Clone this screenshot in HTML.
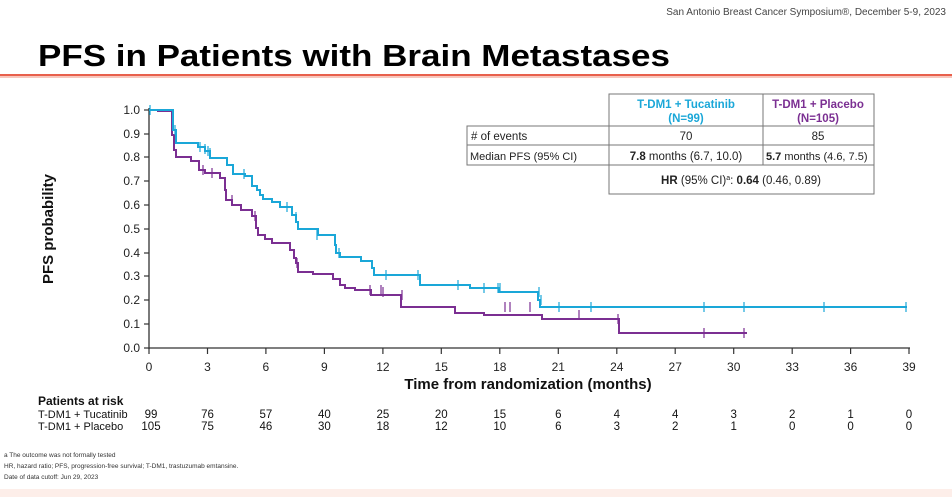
<!DOCTYPE html>
<html><head><meta charset="utf-8"><style>
body{margin:0;background:#fff;}
svg text{font-family:"Liberation Sans",Arial,sans-serif;}
</style></head><body>
<svg width="952" height="497" viewBox="0 0 952 497" xmlns="http://www.w3.org/2000/svg">
<rect width="952" height="497" fill="#fff"/>
<text x="946" y="15" text-anchor="end" font-size="10" fill="#444">San Antonio Breast Cancer Symposium®, December 5-9, 2023</text>
<text x="38" y="66" font-size="31" font-weight="bold" fill="#000" textLength="632" lengthAdjust="spacingAndGlyphs">PFS in Patients with Brain Metastases</text>
<rect x="0" y="74" width="952" height="2" fill="#e8604c"/>
<rect x="0" y="76" width="952" height="2" fill="#f7c7bd"/>
<rect x="0" y="489" width="952" height="8" fill="#fdeee9"/>

<g stroke="#333" stroke-width="1.3" fill="none">
<line x1="149" y1="108" x2="149" y2="349"/>
<line x1="149" y1="348" x2="910" y2="348"/>
</g>
<g stroke="#333" stroke-width="1.2">
<line x1="144" y1="110" x2="149" y2="110"/><line x1="144" y1="134" x2="149" y2="134"/><line x1="144" y1="157" x2="149" y2="157"/><line x1="144" y1="181" x2="149" y2="181"/><line x1="144" y1="205" x2="149" y2="205"/><line x1="144" y1="229" x2="149" y2="229"/><line x1="144" y1="253" x2="149" y2="253"/><line x1="144" y1="276" x2="149" y2="276"/><line x1="144" y1="300" x2="149" y2="300"/><line x1="144" y1="324" x2="149" y2="324"/><line x1="144" y1="348" x2="149" y2="348"/>
<line x1="149" y1="348" x2="149" y2="354"/><line x1="207.5" y1="348" x2="207.5" y2="354"/><line x1="265.9" y1="348" x2="265.9" y2="354"/><line x1="324.4" y1="348" x2="324.4" y2="354"/><line x1="382.9" y1="348" x2="382.9" y2="354"/><line x1="441.3" y1="348" x2="441.3" y2="354"/><line x1="499.8" y1="348" x2="499.8" y2="354"/><line x1="558.3" y1="348" x2="558.3" y2="354"/><line x1="616.8" y1="348" x2="616.8" y2="354"/><line x1="675.2" y1="348" x2="675.2" y2="354"/><line x1="733.7" y1="348" x2="733.7" y2="354"/><line x1="792.2" y1="348" x2="792.2" y2="354"/><line x1="850.6" y1="348" x2="850.6" y2="354"/><line x1="909" y1="348" x2="909" y2="354"/>
</g>
<g font-size="12" fill="#222" text-anchor="end">
<text x="140" y="114">1.0</text><text x="140" y="138">0.9</text><text x="140" y="161">0.8</text><text x="140" y="185">0.7</text><text x="140" y="209">0.6</text><text x="140" y="233">0.5</text><text x="140" y="257">0.4</text><text x="140" y="280">0.3</text><text x="140" y="304">0.2</text><text x="140" y="328">0.1</text><text x="140" y="352">0.0</text>
</g>
<g font-size="12" fill="#222" text-anchor="middle">
<text x="149" y="371">0</text><text x="207.5" y="371">3</text><text x="265.9" y="371">6</text><text x="324.4" y="371">9</text><text x="382.9" y="371">12</text><text x="441.3" y="371">15</text><text x="499.8" y="371">18</text><text x="558.3" y="371">21</text><text x="616.8" y="371">24</text><text x="675.2" y="371">27</text><text x="733.7" y="371">30</text><text x="792.2" y="371">33</text><text x="850.6" y="371">36</text><text x="909" y="371">39</text>
</g>
<text x="528" y="389" text-anchor="middle" font-size="15" font-weight="bold" fill="#111">Time from randomization (months)</text>
<text transform="translate(53,229) rotate(-90)" text-anchor="middle" font-size="15" font-weight="bold" fill="#111">PFS probability</text>

<path fill="none" stroke="#7b2f92" stroke-width="2" d="M149,110 H158 V111 H172 V135 H174 V150 H176 V157 H191 V161 H199 V170 H205 V173 H220 V178 H225 V190 H226 V200 H232 V205 H241 V210 H252 V216 H256 V228 H258 V235 H265 V239 H272 V243 H290 V250 H294 V258 H296 V263 H298 V272 H313 V274 H333 V279 H340 V285 H345 V288 H355 V290 H371 V295 H401 V307 H455 V313 H484 V315 H542 V319 H619 V333 H747"/>
<path fill="none" stroke="#1aa7d8" stroke-width="2" d="M149,110 H173 V130 H176 V143 H198 V147 H205 V151 H210 V158 H227 V165 H233 V174 H245 V176 H252 V186 H257 V190 H260 V195 H263 V199 H272 V202 H280 V207 H292 V215 H296 V222 H298 V229 H318 V235 H335 V245 H336 V253 H340 V257 H361 V261 H372 V268 H374 V275 H420 V285 H470 V288 H499 V292 H538 V300 H540 V307 H907"/>
<g stroke="#7b2f92" stroke-width="1.2">
<path d="M203,165v10M212,168v10M232,195v10M255,211v10M297,258v10M370,285v10M381,285v10M383,287v10M402,290v10M505,302v10M510,302v10M530,302v10M579,310v10M618,314v10M704,328v10M744,328v10"/>
</g>
<g stroke="#1aa7d8" stroke-width="1.2">
<path d="M150,105v10M175,125v10M200,142v10M205,144v10M208,146v10M210,148v10M244,169v10M287,202v10M296,212v10M317,230v10M339,248v10M386,270v10M418,270v10M458,280v10M484,283v10M498,283v10M500,283v10M539,287v10M541,295v10M559,302v10M591,302v10M704,302v10M744,302v10M824,302v10M906,302v10"/>
</g>

<g stroke="#777" stroke-width="1" fill="none">
<rect x="609" y="94" width="265" height="100"/>
<line x1="763" y1="94" x2="763" y2="165"/>
<rect x="467" y="126" width="142" height="39"/>
<line x1="467" y1="145" x2="874" y2="145"/>
<line x1="609" y1="126" x2="874" y2="126"/>
<line x1="609" y1="165" x2="874" y2="165"/>
</g>
<g font-size="11.5" text-anchor="middle">
<text x="686" y="108" font-weight="bold" fill="#1aa7d8">T-DM1 + Tucatinib</text>
<text x="686" y="122" font-weight="bold" fill="#1aa7d8">(N=99)</text>
<text x="818" y="108" font-weight="bold" fill="#7b2f92">T-DM1 + Placebo</text>
<text x="818" y="122" font-weight="bold" fill="#7b2f92">(N=105)</text>
<text x="686" y="140" fill="#222">70</text>
<text x="818" y="140" fill="#222">85</text>
<text x="686" y="160" fill="#222"><tspan font-weight="bold">7.8</tspan> months (6.7, 10.0)</text>
<text x="741" y="184" fill="#222"><tspan font-weight="bold">HR</tspan> (95% CI)<tspan font-size="7" dy="-4">a</tspan><tspan dy="4">: </tspan><tspan font-weight="bold">0.64</tspan> (0.46, 0.89)</text>
</g>
<text x="766" y="160" font-size="11" fill="#222"><tspan font-weight="bold">5.7</tspan> months (4.6, 7.5)</text>
<g font-size="11.5" fill="#222">
<text x="471" y="140"># of events</text>
<text x="470" y="160" font-size="11">Median PFS (95% CI)</text>
</g>

<g font-size="11.5" fill="#111">
<text x="38" y="405" font-weight="bold" font-size="12">Patients at risk</text>
<text x="38" y="418" font-size="11">T-DM1 + Tucatinib</text>
<text x="38" y="430" font-size="11">T-DM1 + Placebo</text>
</g>
<g font-size="11.5" fill="#111" text-anchor="middle">
<text x="151" y="418">99</text><text x="207.5" y="418">76</text><text x="265.9" y="418">57</text><text x="324.4" y="418">40</text><text x="382.9" y="418">25</text><text x="441.3" y="418">20</text><text x="499.8" y="418">15</text><text x="558.3" y="418">6</text><text x="616.8" y="418">4</text><text x="675.2" y="418">4</text><text x="733.7" y="418">3</text><text x="792.2" y="418">2</text><text x="850.6" y="418">1</text><text x="909" y="418">0</text>
<text x="151" y="430">105</text><text x="207.5" y="430">75</text><text x="265.9" y="430">46</text><text x="324.4" y="430">30</text><text x="382.9" y="430">18</text><text x="441.3" y="430">12</text><text x="499.8" y="430">10</text><text x="558.3" y="430">6</text><text x="616.8" y="430">3</text><text x="675.2" y="430">2</text><text x="733.7" y="430">1</text><text x="792.2" y="430">0</text><text x="850.6" y="430">0</text><text x="909" y="430">0</text>
</g>
<g font-size="6.5" fill="#333">
<text x="4" y="457">a The outcome was not formally tested</text>
<text x="4" y="468">HR, hazard ratio; PFS, progression-free survival; T-DM1, trastuzumab emtansine.</text>
<text x="4" y="479">Date of data cutoff: Jun 29, 2023</text>
</g>
</svg>
</body></html>
